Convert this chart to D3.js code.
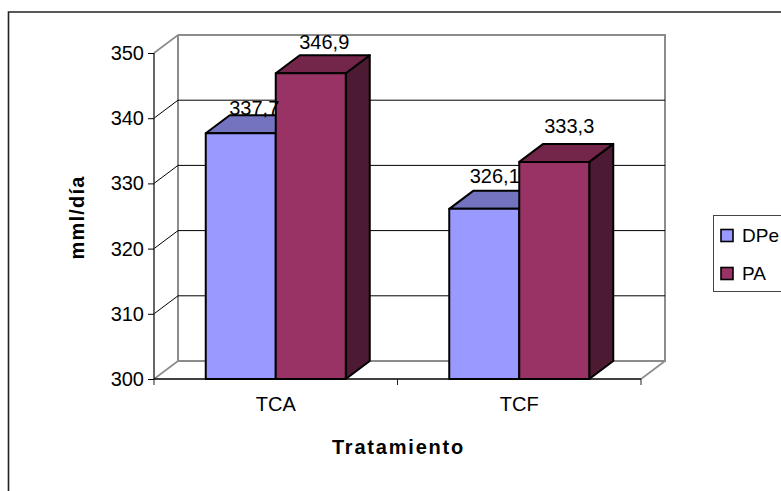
<!DOCTYPE html>
<html><head><meta charset="utf-8">
<script src="https://cdn.jsdelivr.net/npm/d3@7"></script>
<style>html,body{margin:0;background:#fff}svg{display:block}text{font-family:"Liberation Sans",Arial,sans-serif;fill:#000}</style>
</head><body><svg id="c" width="781" height="491"></svg>
<script>
const categories = ["TCA", "TCF"];
const seriesNames = ["DPe", "PA"];
const dpeValues = [337.7, 326.1];
const paValues = [346.9, 333.3];
const valueLabels = [["337,7", "326,1"], ["346,9", "333,3"]];
const yTicks = [300, 310, 320, 330, 340, 350];
const frontColors = ["#9999ff", "#993366"];
const topColors = ["#7373bf", "#732649"];
const sideColors = ["#4d4d80", "#4d1a33"];

const svg = d3.select("#c");
const depthX = 24, depthY = -18;
const y = d3.scaleLinear().domain([300, 350]).range([379, 53]);
const x = d3.scaleBand().domain(categories).range([154, 641]);
const barW = 70;
const series = [dpeValues, paValues];
const backL = 154 + depthX, backR = 641 + depthX;

// outer chart frame
svg.append("path").attr("d", "M8.5,491V12H781").attr("fill", "none").attr("stroke", "#222").attr("stroke-width", 1.6);

const gray = "#8c8c8c";
// back wall and floor
svg.append("path").attr("fill", "none").attr("stroke", gray).attr("stroke-width", 2)
  .attr("d", d3.line()([[backL, y(350) + depthY], [backR, y(350) + depthY], [backR, y(300) + depthY], [backL, y(300) + depthY], [backL, y(350) + depthY]]));
// side wall and floor edges
svg.append("path").attr("fill", "none").attr("stroke", gray).attr("stroke-width", 1.6)
  .attr("d", `M154,${y(350)}L${backL},${y(350) + depthY}M154,${y(300)}L${backL},${y(300) + depthY}M641,${y(300)}L${backR},${y(300) + depthY}`);

// gridlines across the back wall with side wall diagonals
yTicks.slice(1, -1).forEach(t => {
  svg.append("path").attr("fill", "none").attr("stroke", "#000").attr("stroke-width", 1)
    .attr("d", `M154,${y(t)}L${backL},${y(t) + depthY}H${backR}`);
});

// value axis
const yAxis = d3.axisLeft(y).tickValues(yTicks).tickSize(6).tickPadding(4).tickFormat(d3.format("d"));
const ga = svg.append("g").attr("transform", "translate(154,0)").call(yAxis);
ga.selectAll("text").style("font-size", "20px");
ga.selectAll("line").attr("stroke", "#000");
ga.select("path").attr("stroke", "#333").attr("stroke-width", 1.5).attr("d", `M0,${y(350)}V${y(300)}`);

// category axis with ticks at band edges
svg.append("line").attr("x1", 154).attr("x2", 641).attr("y1", y(300)).attr("y2", y(300)).attr("stroke", "#000").attr("stroke-width", 1.5);
[154, 154 + x.bandwidth(), 641].forEach(p => svg.append("line").attr("x1", p).attr("x2", p).attr("y1", 379).attr("y2", 385).attr("stroke", "#222"));
svg.selectAll(".cat").data(categories).join("text").attr("class", "cat")
  .attr("x", d => x(d) + x.bandwidth() / 2).attr("y", 411).attr("text-anchor", "middle").style("font-size", "20px").text(d => d);

const barLeft = (ci, si) => x(categories[ci]) + x.bandwidth() / 2 - barW + si * barW;
const items = [];
series.forEach((vals, si) => vals.forEach((v, ci) => items.push({v, ci, si})));

const drawBar = ({v, ci, si}) => {
  const l = barLeft(ci, si), r = l + barW, t = y(v), b = y(300);
  const g = svg.append("g").attr("stroke", "#000").attr("stroke-width", 2).attr("stroke-linejoin", "round");
  g.append("path").attr("fill", sideColors[si]).attr("d", d3.line()([[r, t], [r + depthX, t + depthY], [r + depthX, b + depthY], [r, b]]) + "Z");
  g.append("path").attr("fill", topColors[si]).attr("d", d3.line()([[l, t], [l + depthX, t + depthY], [r + depthX, t + depthY], [r, t]]) + "Z");
  g.append("rect").attr("x", l).attr("y", t).attr("width", barW).attr("height", b - t).attr("fill", frontColors[si]);
};
items.forEach(drawBar);

// value labels sit above each bar's top face, each with its own small nudge
const labelNudge = [[[13.5, 0], [10.5, -8]], [[13.5, -6], [15, -11]]];
items.forEach(({v, ci, si}) => {
  const [dx, dy] = labelNudge[si][ci];
  svg.append("text").attr("x", barLeft(ci, si) + barW / 2 + dx).attr("y", y(v) + depthY + dy)
    .attr("text-anchor", "middle").style("font-size", "20px").text(valueLabels[si][ci]);
});

// axis titles
svg.append("text").attr("transform", "translate(84,217.5) rotate(-90)").attr("text-anchor", "middle")
  .style("font-size", "20px").style("font-weight", "bold").style("letter-spacing", "1.2px").text("mml/día");
svg.append("text").attr("x", 398.5).attr("y", 454).attr("text-anchor", "middle")
  .style("font-size", "20px").style("font-weight", "bold").style("letter-spacing", "1.8px").text("Tratamiento");

// legend
svg.append("rect").attr("x", 713.5).attr("y", 215.5).attr("width", 75).attr("height", 76).attr("fill", "#fff").attr("stroke", "#444").attr("stroke-width", 1);
seriesNames.forEach((n, i) => {
  const ly = 235.5 + i * 38;
  svg.append("rect").attr("x", 721).attr("y", ly - 6).attr("width", 12).attr("height", 12).attr("fill", frontColors[i]).attr("stroke", "#000").attr("stroke-width", 1.6);
  svg.append("text").attr("x", 742).attr("y", ly + 6).style("font-size", "19px").text(n);
});
</script></body></html>
